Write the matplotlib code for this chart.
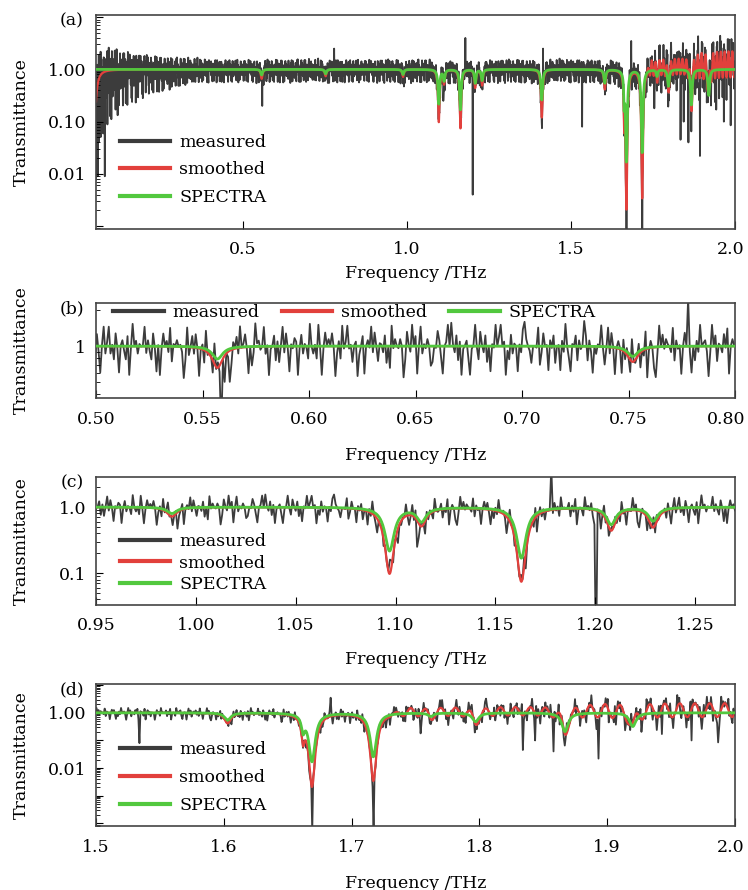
import numpy as np
import matplotlib
matplotlib.use('Agg')
import matplotlib.pyplot as plt
import matplotlib.transforms as mtransforms
from matplotlib.ticker import FixedLocator, FuncFormatter, NullFormatter

plt.rcParams['font.family'] = ['DejaVu Serif']
plt.rcParams['font.size'] = 12.5

# absorption lines: centre (THz), minimum transmittance, half width
line_freq = [0.045, 0.557, 0.752, 0.988, 1.097, 1.113, 1.163, 1.208, 1.229, 1.411,
             1.603, 1.662, 1.669, 1.717, 1.762, 1.797, 1.867, 1.920]
line_min_spectra = [1.0, 0.78, 0.82, 0.80, 0.22, 0.62, 0.17, 0.55, 0.62, 0.26,
                    0.55, 0.30, 0.018, 0.026, 0.75, 0.48, 0.21, 0.32]
line_min_smoothed = [0.035, 0.66, 0.74, 0.72, 0.10, 0.55, 0.075, 0.45, 0.50, 0.12,
                     0.42, 0.16, 0.0023, 0.0035, 0.65, 0.40, 0.17, 0.25]
line_hwhm = [0.006, 0.003, 0.003, 0.003, 0.0028, 0.0028, 0.0028, 0.0028, 0.0028, 0.003,
             0.003, 0.0015, 0.003, 0.003, 0.0025, 0.003, 0.003, 0.003]

# etalon ripple seen on the smoothed curve above 1.72 THz (log10 units)
ripple_knot_freq = [0.05, 1.725, 1.745, 1.85, 1.90, 2.00]
ripple_amp = [0.0, 0.0, 0.15, 0.15, 0.25, 0.25]
ripple_offset = [0.0, 0.0, 0.06, 0.07, 0.09, 0.10]
ripple_period = 0.0117

# largest excursion of the measured trace around the smoothed one (log10 units)
noise_knot_freq = [0.05, 0.07, 0.10, 0.15, 0.20, 0.30, 0.40, 1.60, 1.70, 1.80, 1.90, 2.00]
noise_up = [0.75, 0.65, 0.50, 0.40, 0.32, 0.26, 0.22, 0.22, 0.28, 0.38, 0.48, 0.55]
noise_down = [1.6, 1.3, 1.05, 0.75, 0.55, 0.36, 0.27, 0.27, 0.32, 0.40, 0.50, 0.55]
noise_digits = (
    "7302948165283904756190382716450283719465581729036419473820566039281574"
    "8271935064395810274607249183564718305926926184057318039572645927318406"
    "0384729165746301925828504719366193728405301758294684051296734926035817"
    "1592840637703826419526194038575840271936936157024804739285166281409375"
    "3750186294804926375115387204694962817035720359418628150639479470318265"
    "0628975314539128460738146072952064817359817305264941392860576082741953"
    "4816290375102948376529173604858305172946"
)

# isolated spikes in the measured trace: frequency (THz), transmittance
spike_freq = [0.0575, 0.0785, 0.5585, 0.778, 1.111, 1.178, 1.2005, 1.415, 1.534,
              1.6695, 1.7175, 1.684, 1.754, 1.834, 1.844, 1.858, 1.893, 1.943, 1.966, 1.987]
spike_value = [0.009, 0.009, 0.2, 2.5, 0.25, 4.0, 0.004, 2.5, 0.08,
               5e-5, 5e-5, 3.5, 0.18, 0.045, 0.1, 0.04, 0.022, 0.17, 0.1, 0.085]


def transmittance(f, minima):
    absorb = np.zeros_like(f)
    for f0, tmin, g in zip(line_freq, minima, line_hwhm):
        absorb += -np.log(tmin) / (1 + ((f - f0) / g) ** 2)
    return np.exp(-absorb)


def smoothed(f):
    t = transmittance(f, line_min_smoothed)
    amp = np.interp(f, ripple_knot_freq, ripple_amp)
    off = np.interp(f, ripple_knot_freq, ripple_offset)
    return t * 10 ** (off + amp * np.sin(2 * np.pi * f / ripple_period))


f_fine = np.arange(0.05, 2.0002, 0.0002)
spectra = transmittance(f_fine, line_min_spectra)
smooth = smoothed(f_fine)

# measured trace: hand-typed jitter digits read in overlapping pairs (00..99)
f_meas = np.arange(0.05, 2.0004, 0.0008)
d = np.array([int(c) for c in noise_digits])
pairs = 10 * d + np.roll(d, -1)
x = (pairs - 49.5) / 49.5
v = np.sign(x) * x ** 2
v = v[np.arange(len(f_meas)) % len(v)]
up = np.interp(f_meas, noise_knot_freq, noise_up)
dn = np.interp(f_meas, noise_knot_freq, noise_down)
measured = smoothed(f_meas) * 10 ** np.where(v > 0, up * v, dn * v)
for sf, sv in zip(spike_freq, spike_value):
    measured[np.argmin(np.abs(f_meas - sf))] = sv

gray = '#3c3c3c'
red = '#e2403c'
green = '#52c83e'

W, H = 748, 890
fig = plt.figure(figsize=(W / 100, H / 100), dpi=100)

panels = [
    dict(tag='(a)', top=15, bot=229, xlim=(0.052, 2.0), ylim=(8.8e-4, 11),
         xticks=[0.5, 1.0, 1.5, 2.0], xfmt='%.1f', shift=4,
         ymaj=[1e-3, 1e-2, 1e-1, 1, 10], ylab={1: '1.00', 0.1: '0.10', 0.01: '0.01'},
         xl=274, leg=dict(loc='center left', bbox_to_anchor=(0.0376, 0.276), labelspacing=0.62)),
    dict(tag='(b)', top=303, bot=398, xlim=(0.5, 0.8), ylim=(0.37, 2.28),
         xticks=[0.50, 0.55, 0.60, 0.65, 0.70, 0.75, 0.80], xfmt='%.2f', shift=9,
         ymaj=[1], ylab={1: '1'},
         xl=455, leg=dict(loc='center left', bbox_to_anchor=(0.027, 0.895), ncol=3,
                          columnspacing=1.3)),
    dict(tag='(c)', top=477, bot=605, xlim=(0.95, 1.27), ylim=(0.033, 2.85),
         xticks=[0.95, 1.00, 1.05, 1.10, 1.15, 1.20, 1.25], xfmt='%.2f', shift=0,
         ymaj=[0.01, 0.1, 1, 10], ylab={1: '1.0', 0.1: '0.1'},
         xl=660, leg=dict(loc='center left', bbox_to_anchor=(0.0376, 0.328), labelspacing=0.25)),
    dict(tag='(d)', top=684, bot=826, xlim=(1.5, 2.0), ylim=(8e-5, 11),
         xticks=[1.5, 1.6, 1.7, 1.8, 1.9, 2.0], xfmt='%.1f', shift=4,
         ymaj=[1e-4, 1e-3, 1e-2, 1e-1, 1, 10], ylab={1: '1.00', 0.01: '0.01'},
         xl=883, leg=dict(loc='center left', bbox_to_anchor=(0.0376, 0.342), labelspacing=0.62)),
]

left, right = 96, 735
for p in panels:
    ax = fig.add_axes([left / W, 1 - p['bot'] / H, (right - left) / W, (p['bot'] - p['top']) / H])
    ax.plot(f_meas, measured, color=gray, lw=1.3, label='measured', zorder=1)
    ax.plot(f_fine, smooth, color=red, lw=1.6, label='smoothed', zorder=2)
    ax.plot(f_fine, spectra, color=green, lw=2.0, label='SPECTRA', zorder=3)
    ax.set_yscale('log')
    ax.set_xlim(*p['xlim'])
    ax.set_ylim(*p['ylim'])
    ax.xaxis.set_major_locator(FixedLocator(p['xticks']))
    ax.xaxis.set_major_formatter(FuncFormatter(lambda x, pos, fm=p['xfmt']: fm % x))
    ax.xaxis.set_minor_locator(FixedLocator([]))
    ax.yaxis.set_major_locator(FixedLocator(p['ymaj']))
    minors = [m * dd for dd in [1e-5, 1e-4, 1e-3, 1e-2, 1e-1, 1, 10] for m in range(2, 10)]
    ax.yaxis.set_minor_locator(FixedLocator(minors))
    ax.yaxis.set_minor_formatter(NullFormatter())
    labs = p['ylab']

    def yf(y, pos, labs=labs):
        for k, s in labs.items():
            if abs(y / k - 1) < 1e-6:
                return s
        return ''
    ax.yaxis.set_major_formatter(FuncFormatter(yf))
    ax.tick_params(which='both', direction='in', top=False, right=False, labelsize=12.5)
    ax.tick_params(axis='x', which='major', length=6, pad=9)
    ax.tick_params(axis='y', which='major', length=5, pad=7)
    ax.tick_params(axis='y', which='minor', length=3)
    for s in ax.spines.values():
        s.set_color('#444444')
        s.set_linewidth(1.2)
    # keep the right-most tick label inside the canvas
    if p['shift']:
        last = ax.get_xticklabels()[-1]
        last.set_transform(last.get_transform()
                           + mtransforms.ScaledTranslation(-p['shift'] / 100, 0, fig.dpi_scale_trans))
    leg = ax.legend(frameon=False, fontsize=12.5, handlelength=2.9, handletextpad=0.5,
                    borderpad=0, borderaxespad=0, **p['leg'])
    for h in leg.get_lines():
        h.set_linewidth(3.0)
    fig.text(72 / W, 1 - (p['top'] + 6) / H, p['tag'], ha='center', va='center', fontsize=12.5)
    fig.text(21 / W, 1 - (p['top'] + p['bot']) / 2 / H, 'Transmittance', rotation=90,
             ha='center', va='center', fontsize=12.5)
    fig.text((left + right) / 2 / W, 1 - p['xl'] / H, 'Frequency /THz', ha='center',
             va='center', fontsize=12.5)

fig.savefig('out.png', dpi=100)
